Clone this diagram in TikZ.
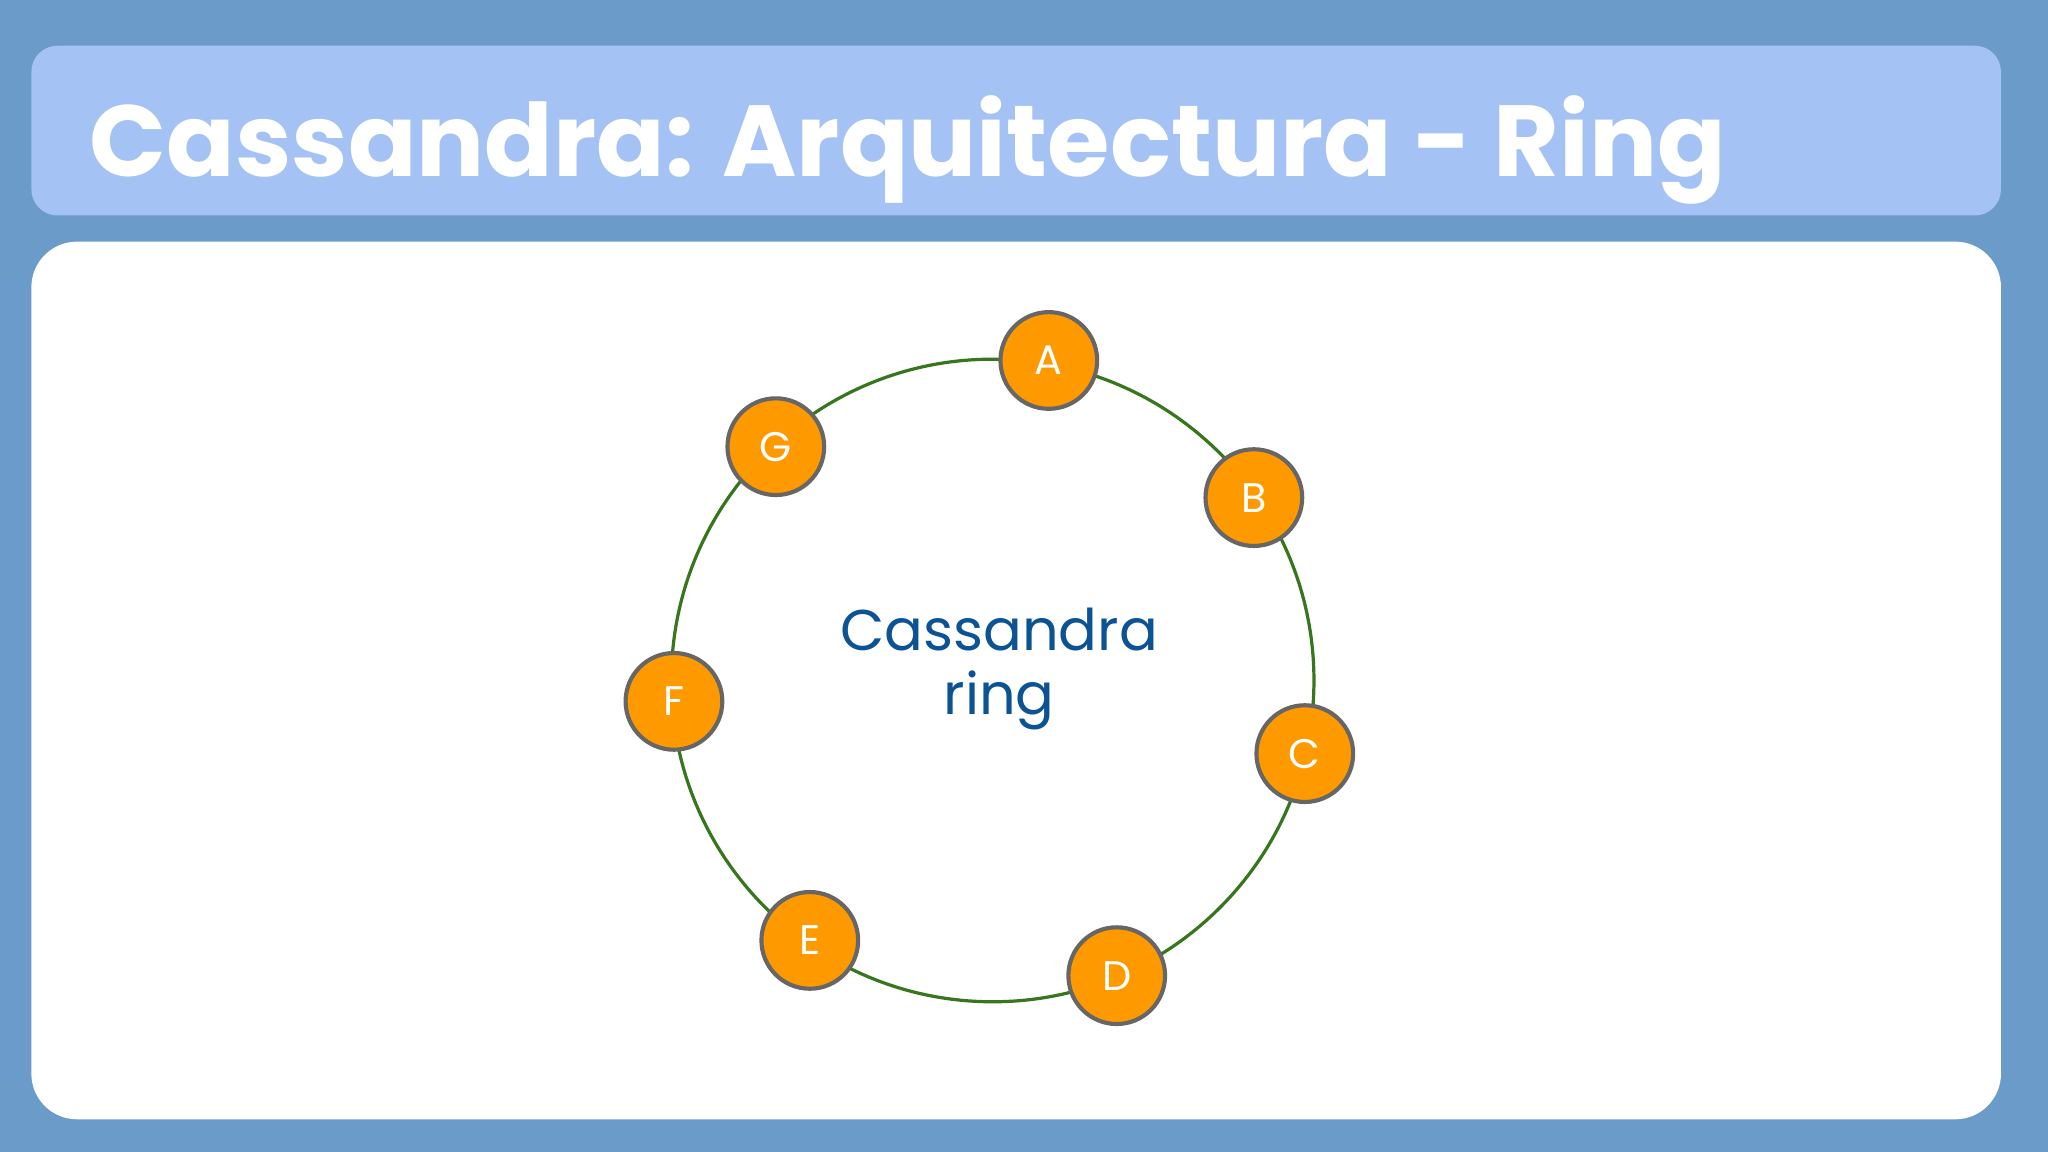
\documentclass[tikz,border=0pt]{standalone}
\usepackage{fontspec}
\setmainfont{Poppins}
\definecolor{bgblue}{HTML}{6A9BC9}
\definecolor{titlebox}{HTML}{A4C2F4}
\definecolor{ringgreen}{HTML}{38761D}
\definecolor{nodeorange}{HTML}{FF9900}
\definecolor{nodegray}{HTML}{666666}
\definecolor{textblue}{HTML}{0B5394}
\tikzset{
  ringnode/.style={circle,fill=nodeorange,draw=nodegray,line width=0.9pt,minimum size=0.74cm,inner sep=0pt,text=white,font=\fontsize{9}{10}\selectfont},
}
\begin{document}
\begin{tikzpicture}[x=0.01cm,y=0.01cm]
\useasboundingbox (0,0) rectangle (1568,882);
\fill[bgblue] (0,0) rectangle (1568,882);
\fill[titlebox,rounded corners=0.2cm] (24,717) rectangle (1532,847);
\fill[white,rounded corners=0.35cm] (24,25) rectangle (1532,697);
\node[anchor=base west,inner sep=0pt,text=white,font=\fontsize{22}{24}\selectfont\bfseries] (title) at (68,747) {Cassandra: Arquitectura - Ring};
\coordinate (ctr) at (760,361);
\draw[ringgreen,line width=0.7pt] (ctr) circle (246);
\node[text=textblue,align=center,font=\fontsize{12.5}{14}\selectfont] (lbl) at (765,370) {Cassandra\\ring};
\node[ringnode] (A) at (803,606) {A};
\node[ringnode] (B) at (960,501) {B};
\node[ringnode] (C) at (999,305) {C};
\node[ringnode] (D) at (855,135) {D};
\node[ringnode] (E) at (620,162) {E};
\node[ringnode] (F) at (516,345) {F};
\node[ringnode] (G) at (594,540) {G};
\end{tikzpicture}
\end{document}
